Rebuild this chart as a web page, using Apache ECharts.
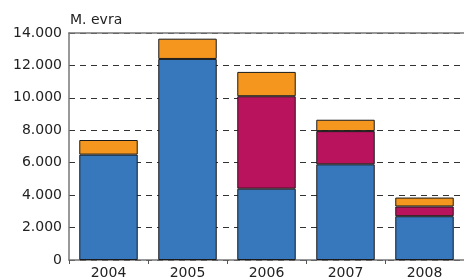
<!DOCTYPE html>
<html><head><meta charset="utf-8">
<script src="https://cdn.jsdelivr.net/npm/echarts@6/dist/echarts.min.js"></script>
<style>html,body{margin:0;padding:0;background:#fff}#c{width:464px;height:280px}</style>
</head><body><div id="c"></div>
<script>
const categories = ['2004','2005','2006','2007','2008'];
const seriesBlue = [6500, 12400, 4400, 5900, 2700];
const seriesMagenta = ['-', '-', 5700, 2050, 600];
const seriesOrange = [900, 1250, 1500, 700, 550];
const yTicks = {min: 0, max: 14000, interval: 2000};
const unitLabel = 'M. evra';

const fmt = v => v === 0 ? '0' : String(v).replace(/\B(?=(\d{3})+(?!\d))/g, '.');
const font = 'DejaVu Sans';
const chart = echarts.init(document.getElementById('c'), null, {renderer: 'canvas'});
const mk = (name, data, color) => ({
  name, type: 'bar', stack: 's', data, barCategoryGap: '26%',
  itemStyle: {color, borderColor: '#1a1a1a', borderWidth: 1},
  silent: true
});
chart.setOption({
  animation: false,
  grid: {left: 69, top: 33, right: 0, bottom: 16, containLabel: false},
  xAxis: [{
    type: 'category', data: categories, position: 'bottom',
    axisLine: {lineStyle: {color: '#777', width: 1.5}},
    axisTick: {show: true, length: 4, lineStyle: {color: '#555'}},
    axisLabel: {color: '#222', fontFamily: font, fontSize: 14, margin: 6}
  }, {
    type: 'category', data: categories, position: 'top',
    axisLine: {show: true, lineStyle: {color: '#777', width: 1.5}},
    axisTick: {show: false}, axisLabel: {show: false}
  }],
  yAxis: {
    type: 'value', min: yTicks.min, max: yTicks.max, interval: yTicks.interval,
    name: unitLabel, nameLocation: 'end', nameGap: 6,
    nameTextStyle: {color: '#222', fontFamily: font, fontSize: 14, align: 'left', padding: [0, 0, 0, 1]},
    axisLine: {show: true, lineStyle: {color: '#777', width: 1.5}},
    axisTick: {show: false},
    axisLabel: {color: '#222', fontFamily: font, fontSize: 14, margin: 7, formatter: fmt},
    splitLine: {show: true, lineStyle: {color: '#333', width: 1.2, type: [6, 5]}}
  },
  series: [
    mk('a', seriesBlue, '#3777BB'),
    mk('b', seriesMagenta, '#B8135C'),
    mk('c', seriesOrange, '#F5961F')
  ]
});
</script></body></html>
